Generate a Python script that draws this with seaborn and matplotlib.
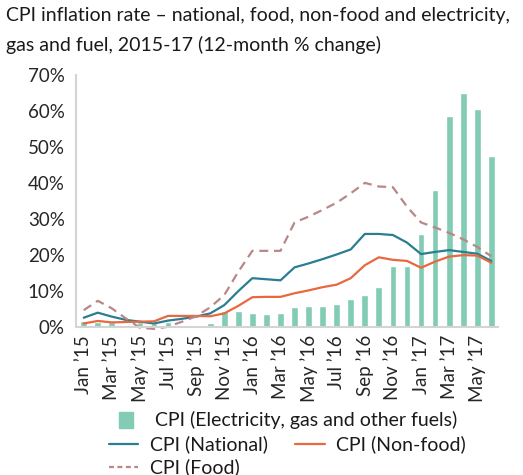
import numpy as np
import pandas as pd
import matplotlib
matplotlib.use("Agg")
import matplotlib.pyplot as plt
import seaborn as sns
from matplotlib.patches import Patch
from matplotlib.lines import Line2D

# monthly data, Jan 2015 - Jun 2017 (12-month % change)
months = ["Jan ’15", "Feb ’15", "Mar ’15", "Apr ’15", "May ’15", "Jun ’15",
          "Jul ’15", "Aug ’15", "Sep ’15", "Oct ’15", "Nov ’15", "Dec ’15",
          "Jan ’16", "Feb ’16", "Mar ’16", "Apr ’16", "May ’16", "Jun ’16",
          "Jul ’16", "Aug ’16", "Sep ’16", "Oct ’16", "Nov ’16", "Dec ’16",
          "Jan ’17", "Feb ’17", "Mar ’17", "Apr ’17", "May ’17", "Jun ’17"]

electricity = [1.6, 1.2, 1.2, 0.0, 1.2, 0.9, 1.4, 0.5, 0.5, 1.0,
               4.4, 4.4, 3.8, 3.6, 3.8, 5.5, 5.8, 5.8, 6.3, 7.7,
               8.8, 11.0, 16.9, 16.9, 25.8, 38.0, 58.6, 65.0, 60.5, 47.5]
national = [2.5, 3.9, 2.8, 1.9, 1.4, 0.9, 1.7, 2.2, 2.8, 3.7,
            6.0, 9.9, 13.5, 13.2, 12.9, 16.5, 17.6, 18.8, 20.1, 21.5,
            25.8, 25.8, 25.5, 23.4, 20.2, 20.8, 21.3, 20.8, 20.3, 18.3]
non_food = [0.9, 1.6, 1.2, 1.3, 1.4, 1.5, 3.0, 3.0, 3.0, 2.9,
            3.7, 5.8, 8.2, 8.3, 8.3, 9.3, 10.1, 11.0, 11.7, 13.5,
            17.1, 19.3, 18.6, 18.3, 16.4, 18.1, 19.5, 19.9, 19.8, 17.8]
food = [4.6, 7.2, 5.1, 2.3, -0.3, -0.6, 0.0, 1.4, 2.9, 5.4,
        8.8, 15.3, 21.1, 21.1, 21.1, 29.0, 30.6, 32.5, 34.5, 37.1,
        40.0, 39.0, 38.8, 33.4, 29.0, 27.6, 26.1, 24.3, 22.2, 19.6]

yticks = [0, 10, 20, 30, 40, 50, 60, 70]

c_elec = "#82cbb5"
c_nat = "#2a7d92"
c_nonfood = "#e8683f"
c_food = "#b98787"
c_axis = "#d4d4d4"

df = pd.DataFrame({
    "idx": np.arange(len(months)),
    "month": months,
    "electricity": electricity,
    "national": national,
    "non_food": non_food,
    "food": food,
})

sns.set_theme(style="white")
plt.rcParams["font.family"] = ["Lato", "DejaVu Sans"]
plt.rcParams["text.color"] = "#1a1a1a"

fig = plt.figure(figsize=(5.23, 4.75), dpi=100)
ax = fig.add_axes([0.1453, 0.3122, 0.8067, 0.5298])

sns.barplot(data=df, x="idx", y="electricity", native_scale=True,
            color=c_elec, saturation=1, width=0.48, ax=ax)
sns.lineplot(data=df, x="idx", y="national", color=c_nat, lw=1.6,
             ax=ax, clip_on=False)
sns.lineplot(data=df, x="idx", y="non_food", color=c_nonfood, lw=1.6,
             ax=ax, clip_on=False)
sns.lineplot(data=df, x="idx", y="food", color=c_food, lw=1.6,
             linestyle=(0, (4, 2.6)), ax=ax, clip_on=False)

ax.set_xlim(-0.55, 29.47)
ax.set_ylim(0, 70)
ax.set_xticks(df["idx"][::2])
ax.set_xticklabels(df["month"][::2], rotation=90, fontsize=13.5)
ax.set_yticks(yticks)
ax.set_yticklabels([f"{t}%" for t in yticks], fontsize=13.5)
ax.set_xlabel("")
ax.set_ylabel("")
ax.tick_params(axis="y", length=4, width=1.2, color=c_axis, pad=4)
ax.tick_params(axis="x", length=0, pad=6)
sns.despine(ax=ax)
for s in ("left", "bottom"):
    ax.spines[s].set_color(c_axis)
    ax.spines[s].set_linewidth(1.5)

fig.text(0.012, 0.986,
         "CPI inflation rate – national, food, non-food and electricity,\n"
         "gas and fuel, 2015-17 (12-month % change)",
         ha="left", va="top", fontsize=14, linespacing=1.8)

leg1 = fig.legend(handles=[Patch(color=c_elec)],
                  labels=["CPI (Electricity, gas and other fuels)"],
                  loc="center", bbox_to_anchor=(0.55, 0.115), frameon=False,
                  fontsize=14, handlelength=0.75, handleheight=0.9,
                  handletextpad=1.1)
h_nat = Line2D([], [], color=c_nat, lw=1.6)
h_food = Line2D([], [], color=c_food, lw=1.6, linestyle=(0, (2.2, 1.6)))
h_nf = Line2D([], [], color=c_nonfood, lw=1.6)
fig.legend(handles=[h_nat, h_food, h_nf],
           labels=["CPI (National)", "CPI (Food)", "CPI (Non-food)"],
           ncol=2, loc="center", bbox_to_anchor=(0.55, 0.04),
           frameon=False, fontsize=14, handlelength=1.5,
           handletextpad=0.6, columnspacing=1.4, labelspacing=0.25)

fig.savefig("out.png", dpi=100)
